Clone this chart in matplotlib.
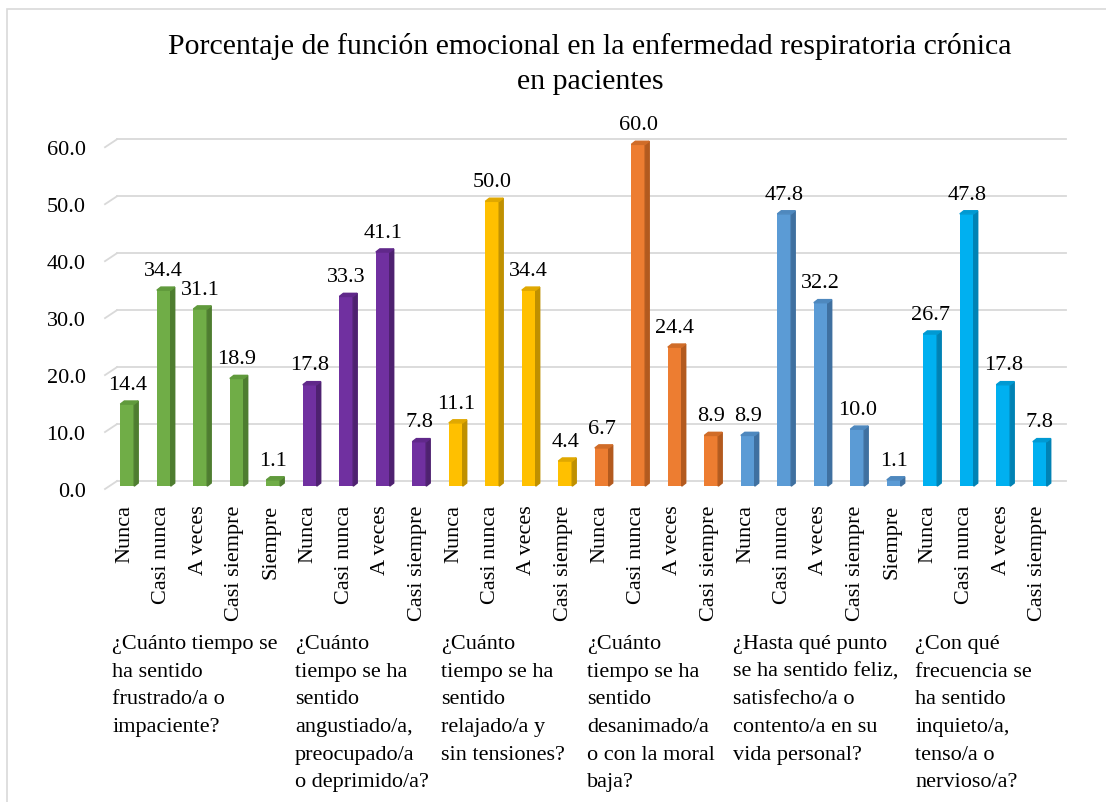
import matplotlib.pyplot as plt
import matplotlib.transforms as mtransforms
from matplotlib.patches import Polygon, Rectangle

plt.rcParams['font.family'] = ['Liberation Serif', 'DejaVu Serif']

# Data
answers_5 = ['Nunca', 'Casi nunca', 'A veces', 'Casi siempre', 'Siempre']
answers_4 = ['Nunca', 'Casi nunca', 'A veces', 'Casi siempre']

q1_values = [14.4, 34.4, 31.1, 18.9, 1.1]
q2_values = [17.8, 33.3, 41.1, 7.8]
q3_values = [11.1, 50.0, 34.4, 4.4]
q4_values = [6.7, 60.0, 24.4, 8.9]
q5_values = [8.9, 47.8, 32.2, 10.0, 1.1]
q6_values = [26.7, 47.8, 17.8, 7.8]

questions = [
    '¿Cuánto tiempo se\nha sentido\nfrustrado/a o\nimpaciente?',
    '¿Cuánto\ntiempo se ha\nsentido\nangustiado/a,\npreocupado/a\no deprimido/a?',
    '¿Cuánto\ntiempo se ha\nsentido\nrelajado/a y\nsin tensiones?',
    '¿Cuánto\ntiempo se ha\nsentido\ndesanimado/a\no con la moral\nbaja?',
    '¿Hasta qué punto\nse ha sentido feliz,\nsatisfecho/a o\ncontento/a en su\nvida personal?',
    '¿Con qué\nfrecuencia se\nha sentido\ninquieto/a,\ntenso/a o\nnervioso/a?',
]

groups = [q1_values, q2_values, q3_values, q4_values, q5_values, q6_values]
group_labels = [answers_5, answers_4, answers_4, answers_4, answers_5, answers_4]

front_colors = ['#70AD47', '#7030A0', '#FFC000', '#ED7D31', '#5B9BD5', '#00B0F0']
side_colors = ['#4E7D30', '#4E2170', '#BF9000', '#B35A1E', '#3F70A0', '#0082B4']
top_colors = ['#609A3C', '#60288A', '#E0A800', '#D06C28', '#4E88BE', '#0099D2']

values, labels, colors, sides, tops, starts = [], [], [], [], [], []
for g, (vals, labs) in enumerate(zip(groups, group_labels)):
    starts.append(len(values))
    values += vals
    labels += labs
    colors += [front_colors[g]] * len(vals)
    sides += [side_colors[g]] * len(vals)
    tops += [top_colors[g]] * len(vals)
n = len(values)

fig = plt.figure(figsize=(11.06, 8.03), dpi=100)
ax = fig.add_axes([105 / 1106, 1 - 490 / 803, 949 / 1106, 360 / 803])
ax.set_xlim(-0.5, n - 0.5)
ax.set_ylim(0, 63.2)

# back wall gridlines (pseudo 3D)
gdx, gdy = 0.33, 1.4
for t in range(0, 61, 10):
    ax.plot([-0.5, -0.5 + gdx], [t, t + gdy], color='#D9D9D9', lw=1.3, clip_on=False, zorder=1)
    ax.plot([-0.5 + gdx, n - 0.5 + gdx], [t + gdy, t + gdy], color='#D9D9D9', lw=1.3,
            clip_on=False, zorder=1)

# bars with a side and top face
shift, w, base = 0.11, 0.38, 0.5
sdx, sdy = 0.11, 0.55
xs = [i + shift for i in range(n)]
ax.bar(xs, values, width=w, bottom=base, color=colors, zorder=3, clip_on=False)
for x, v, sc, tc in zip(xs, values, sides, tops):
    x1 = x + w / 2
    x0 = x - w / 2
    top = base + v
    ax.add_patch(Polygon([(x1, base), (x1 + sdx, base + sdy), (x1 + sdx, top + sdy), (x1, top)],
                         closed=True, color=sc, zorder=3, clip_on=False))
    ax.add_patch(Polygon([(x0, top), (x0 + sdx, top + sdy), (x1 + sdx, top + sdy), (x1, top)],
                         closed=True, color=tc, zorder=3, clip_on=False))
    ax.annotate(f'{v:.1f}', (x, top), xytext=(0, 11), textcoords='offset points',
                ha='center', va='baseline', fontsize=16, zorder=4)

ax.set_xticks([i + 0.05 for i in range(n)])
ax.set_xticklabels(labels, rotation=90, fontsize=16)
ax.set_yticks(range(0, 61, 10))
ax.set_yticklabels([f'{t:.1f}' for t in range(0, 61, 10)], fontsize=16)
ax.tick_params(axis='x', length=0, pad=11)
ax.tick_params(axis='y', length=0, pad=14)
for s in ax.spines.values():
    s.set_visible(False)

# category group labels
trans = mtransforms.blended_transform_factory(ax.transData, fig.transFigure)
for st, q in zip(starts, questions):
    ax.text(st - 0.5 + 0.2, 1 - 635 / 803, q, transform=trans, ha='left', va='top',
            fontsize=16, linespacing=1.62)

fig.text(590 / 1106, 1 - 33 / 803,
         'Porcentaje de función emocional en la enfermedad respiratoria crónica\nen pacientes',
         ha='center', va='top', fontsize=21.5, linespacing=1.45)

# chart frame
fig.patches.append(Rectangle((7 / 1106, -0.1), 1.2, 1.1 - 10 / 803, transform=fig.transFigure,
                             fill=False, edgecolor='#D9D9D9', lw=1.2))

fig.savefig('out.png', dpi=100)
